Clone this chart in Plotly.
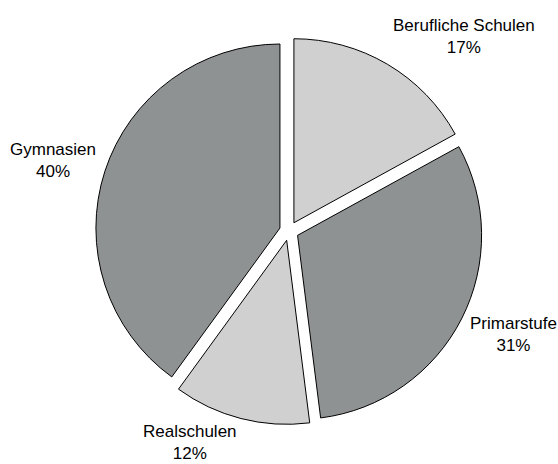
import math
import plotly.graph_objects as go

labels = ["Berufliche Schulen", "Primarstufe", "Realschulen", "Gymnasien"]
values = [17, 31, 12, 40]
colors = ["#d0d0d0", "#8f9293", "#d0d0d0", "#8f9293"]

W, H = 558, 464
PULL = 0.052
dom_x = [0.171, 0.865]
dom_y = [0.0849, 0.9194]
FONT = dict(family="Liberation Sans, Arial, sans-serif", size=17, color="#000000")

fig = go.Figure(go.Pie(
    labels=labels,
    values=values,
    sort=False,
    direction="clockwise",
    rotation=0,
    pull=[PULL] * len(values),
    marker=dict(colors=colors, line=dict(color="#000000", width=1)),
    textinfo="none",
    domain=dict(x=dom_x, y=dom_y),
    showlegend=False,
    hoverinfo="label+percent",
))

# outside labels, placed along each slice's bisector
cx = (dom_x[0] + dom_x[1]) / 2
cy = (dom_y[0] + dom_y[1]) / 2
label_r = 201    # px from pie centre
box_h = 42       # two text lines
total = sum(values)
cum = 0
for lab, v in zip(labels, values):
    theta = 2 * math.pi * (cum + v / 2) / total
    cum += v
    s, c = math.sin(theta), math.cos(theta)
    k = min(1.0 if c > 0 else 0.8, abs(c) * 1.3)
    dy = label_r * c + math.copysign(k * box_h / 2, c)
    fig.add_annotation(
        x=cx + label_r * s / W,
        y=cy + dy / H,
        xref="paper", yref="paper",
        text=f"{lab}<br>{v / total:.0%}",
        showarrow=False,
        xanchor="left" if s >= 0 else "right",
        yanchor="middle",
        align="center",
        font=FONT,
    )

fig.update_layout(
    width=W,
    height=H,
    margin=dict(l=0, r=0, t=0, b=0),
    paper_bgcolor="#ffffff",
    plot_bgcolor="#ffffff",
)

fig.write_html(
    "out.html",
    config={"displayModeBar": False},
    post_script="document.body.style.margin='0';document.body.style.padding='0';",
)
